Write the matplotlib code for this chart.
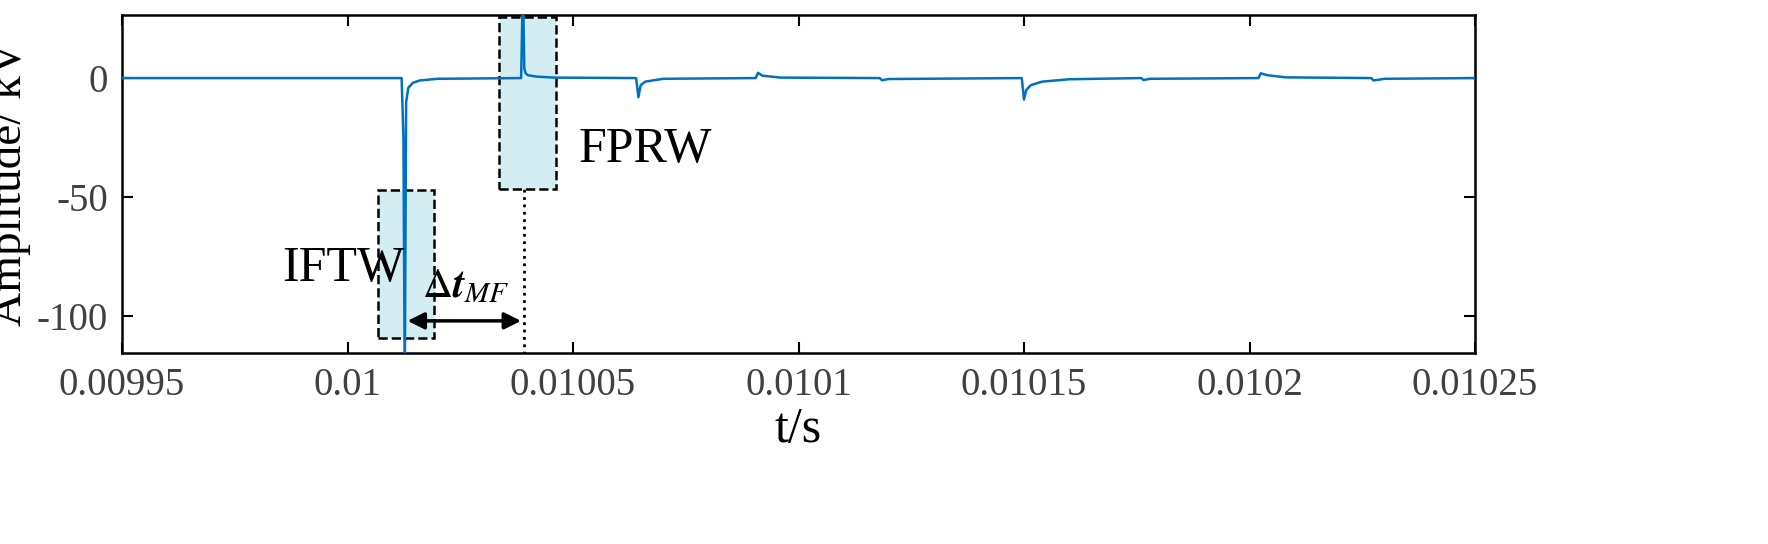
import matplotlib.pyplot as plt
from matplotlib.patches import Rectangle

plt.rcParams['font.family'] = ['Liberation Serif', 'DejaVu Serif']
plt.rcParams['mathtext.fontset'] = 'stix'
plt.rcParams['axes.unicode_minus'] = False

# waveform samples (s, kV)
t = [0.00995, 0.0100120, 0.0100124, 0.0100127, 0.0100130, 0.0100135, 0.0100145,
     0.0100160, 0.0100200, 0.0100385, 0.0100389, 0.0100392, 0.0100395, 0.0100400,
     0.0100420, 0.0100460, 0.0100640, 0.0100645, 0.0100650, 0.0100660, 0.0100700,
     0.0100905, 0.0100910, 0.0100920, 0.0100960, 0.0101180, 0.0101185, 0.0101200,
     0.0101495, 0.0101500, 0.0101505, 0.0101515, 0.0101540, 0.0101600, 0.0101760,
     0.0101765, 0.0101780, 0.0102020, 0.0102025, 0.0102040, 0.0102080, 0.0102270,
     0.0102275, 0.0102300, 0.01025]
v = [0, 0, -25, -130, -10, -4, -2, -1, -0.3, 0, 40, 4, 2, 1.2, 0.6, 0.2, 0, -8,
     -3, -1.5, -0.3, 0, 2.2, 1, 0.2, 0, -0.9, -0.4, 0, -9, -5, -3, -1.5, -0.5, 0,
     -0.8, -0.3, 0, 2, 1.2, 0.3, 0, -1, -0.3, 0]

t_ifw, t_fprw = 0.0100127, 0.0100391
box_ifw = (0.0100068, 0.0100192, -109, -47)
box_fprw = (0.0100336, 0.0100462, -46.6, 25.6)

fig = plt.figure(figsize=(17.68, 5.44), dpi=100)
ax = fig.add_axes([122 / 1768, 1 - 353 / 544, 1353 / 1768, 338 / 544])
ax.plot(t, v, color='#0072BD', lw=1.8, zorder=3)

for x0, x1, y0, y1 in (box_ifw, box_fprw):
    ax.add_patch(Rectangle((x0, y0), x1 - x0, y1 - y0, facecolor='#d3edf3',
                           edgecolor='black', ls='--', lw=1.8, zorder=2))

ax.plot([t_fprw, t_fprw], [-116, box_fprw[2]], color='black', ls=':', lw=2, zorder=4)
ax.annotate('', xy=(t_ifw, -102), xytext=(t_fprw, -102),
            arrowprops=dict(arrowstyle='<|-|>', color='black', lw=2.5,
                            mutation_scale=25), zorder=5)
ax.text(0.0100262, -96, r'$\Delta\mathbfit{t}_{MF}$', fontsize=30, ha='center',
        va='bottom')
ax.text(0.0099990, -80, 'IFTW', fontsize=36, ha='center', va='center')
ax.text(0.0100660, -30, 'FPRW', fontsize=36, ha='center', va='center')

ax.set_xlim(0.00995, 0.01025)
ax.set_ylim(-115.5, 26.5)
xt = [0.00995, 0.01, 0.01005, 0.0101, 0.01015, 0.0102, 0.01025]
ax.set_xticks(xt)
ax.set_xticklabels(['0.00995', '0.01', '0.01005', '0.0101', '0.01015', '0.0102', '0.01025'])
ax.set_yticks([-100, -50, 0])
ax.tick_params(labelsize=28, labelcolor='#404040', direction='in', length=8,
               width=1.5, right=True, top=True, pad=10)
for s in ax.spines.values():
    s.set_linewidth(1.8)
ax.set_xlabel('t/s', fontsize=36, labelpad=2)
ax.set_ylabel('Amplitude/ kV', fontsize=34, labelpad=4)

fig.savefig('out.png', dpi=100)
